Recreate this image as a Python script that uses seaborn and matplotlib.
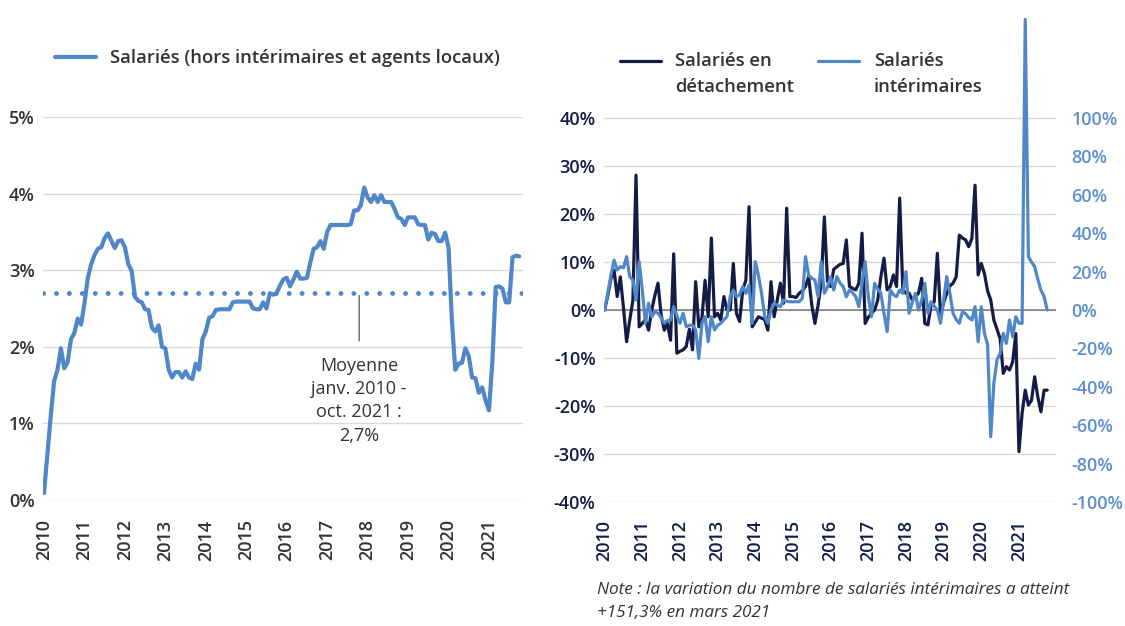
import numpy as np
import pandas as pd
import matplotlib
matplotlib.use("Agg")
import matplotlib.pyplot as plt
from matplotlib.legend_handler import HandlerLine2D
import seaborn as sns

# ---- data (monthly, Jan 2010 -> Oct 2021) ----
years = [str(y) for y in range(2010, 2022)]

# year-on-year growth, salaried staff excluding temp workers and local agents (%)
salaries_hors_interim = [
    0.09, 0.6, 1.1, 1.55, 1.7, 1.98, 1.72, 1.8, 2.1, 2.18,
    2.37, 2.29, 2.57, 2.9, 3.08, 3.2, 3.28, 3.3, 3.42, 3.48,
    3.38, 3.29, 3.38, 3.39, 3.3, 3.08, 2.99, 2.65, 2.6, 2.58,
    2.49, 2.48, 2.25, 2.2, 2.28, 2.0, 1.98, 1.7, 1.6, 1.67,
    1.67, 1.6, 1.68, 1.6, 1.58, 1.78, 1.7, 2.1, 2.2, 2.38,
    2.4, 2.48, 2.49, 2.49, 2.49, 2.49, 2.58, 2.59, 2.59, 2.59,
    2.59, 2.59, 2.5, 2.49, 2.49, 2.58, 2.5, 2.7, 2.68, 2.7,
    2.8, 2.88, 2.9, 2.79, 2.88, 2.98, 2.89, 2.89, 2.9, 3.1,
    3.28, 3.3, 3.38, 3.28, 3.5, 3.59, 3.59, 3.59, 3.59, 3.59,
    3.59, 3.6, 3.78, 3.78, 3.85, 4.08, 3.95, 3.89, 3.98, 3.89,
    3.98, 3.89, 3.89, 3.89, 3.8, 3.69, 3.67, 3.59, 3.69, 3.69,
    3.69, 3.6, 3.59, 3.59, 3.4, 3.49, 3.47, 3.38, 3.38, 3.49,
    3.3, 2.35, 1.7, 1.78, 1.79, 1.98, 1.88, 1.6, 1.59, 1.4,
    1.47, 1.3, 1.17, 1.8, 2.78, 2.79, 2.76, 2.58, 2.58, 3.17,
    3.19, 3.18,
]
moyenne = 2.7
moyenne_label = "Moyenne\njanv. 2010 -\noct. 2021 :\n2,7%"

# posted workers (left axis, %)
detachement = [
    0.0, 3.0, 6.5, 8.3, 2.8, 6.9, 0.5, -6.6, -2.1, 2.0,
    28.1, -3.5, -2.8, -2.0, -4.2, 0.0, 3.0, 5.6, -1.0, -4.2,
    -2.8, -6.3, 11.7, -9.0, -8.6, -8.3, -7.6, -4.0, -8.3, 5.9,
    -3.5, -1.7, 6.2, -1.4, 15.0, -1.4, -0.7, -2.1, 2.8, 0.0,
    0.0, 9.7, -0.7, -2.4, 4.2, 6.2, 21.5, -3.5, -2.5, -1.4,
    -1.7, -2.0, -4.2, 5.9, -1.4, 2.1, 5.6, 1.4, 21.2, 2.8,
    2.8, 2.6, 3.5, 4.0, 4.9, 6.9, 1.0, -2.8, 1.0, 5.6,
    19.4, 6.0, 4.9, 8.5, 9.0, 9.5, 9.7, 14.6, 4.9, 4.5,
    4.2, 5.6, 16.0, -2.8, -1.5, -0.7, 0.0, 2.0, 6.9, 10.8,
    4.2, 4.9, 7.3, 4.9, 23.3, 4.2, 3.5, 3.5, 2.1, 2.8,
    3.5, 6.6, -2.8, -3.1, 1.0, 1.7, 11.8, -1.0, 1.5, 3.5,
    5.0, 5.6, 6.9, 15.6, 15.0, 14.6, 13.2, 14.9, 26.0, 7.3,
    9.7, 7.6, 4.0, 2.1, -2.1, -4.0, -6.0, -13.2, -11.8, -12.5,
    -10.8, -4.9, -29.5, -21.5, -16.7, -19.8, -18.8, -13.9, -18.1, -21.2,
    -16.7, -16.7,
]

# temp workers (right axis, %)
interimaires = [
    0.0, 9.0, 18.0, 26.0, 20.8, 22.6, 22.0, 27.8, 17.4, 15.6,
    5.2, 25.2, 10.4, -6.9, 3.5, -3.5, -1.0, -1.7, -4.0, -6.9,
    -5.5, -5.2, 1.7, -3.0, -6.9, -1.7, -8.7, -8.0, -7.8, -10.4,
    -25.2, -6.9, -3.5, -16.5, -3.5, -10.4, -8.0, -6.9, -5.0, -3.5,
    6.9, 10.4, 6.9, 8.0, 12.2, 8.7, 13.0, -6.9, 25.2, 18.0,
    8.7, -3.5, -6.9, 0.0, 3.5, 2.5, 1.7, 5.2, 4.5, 4.3,
    4.3, 4.3, 4.3, 6.1, 27.8, 18.2, 16.5, 15.6, 6.9, 25.2,
    8.7, 12.0, 17.4, 10.4, 17.4, 14.0, 12.2, 6.9, 10.4, 9.0,
    6.9, 1.7, 14.0, 25.2, 6.9, -3.5, 13.9, 11.0, 8.7, -1.7,
    -11.3, 10.4, 8.0, 6.9, 10.4, 8.7, 20.0, -1.7, 4.0, 8.7,
    0.0, 5.0, 13.9, -1.7, 4.3, 2.0, 0.0, -6.9, 5.0, 17.4,
    8.7, -1.7, -5.0, -6.9, -0.9, -2.0, -4.0, -5.2, 1.7, -16.5,
    1.7, -12.1, -18.0, -66.0, -38.2, -26.0, -22.6, -12.1, -17.4, -5.2,
    -13.9, -3.5, -6.9, -6.9, 151.3, 27.8, 25.0, 22.6, 16.0, 10.4,
    7.0, 0.0,
]

label_left = "Salariés (hors intérimaires et agents locaux)"
label_det = "Salariés en\ndétachement"
label_int = "Salariés\nintérimaires"
note = "Note : la variation du nombre de salariés intérimaires a atteint\n+151,3% en mars 2021"

left_ticks = [0, 1, 2, 3, 4, 5]
det_ticks = [-40, -30, -20, -10, 0, 10, 20, 30, 40]
int_ticks = [-100, -80, -60, -40, -20, 0, 20, 40, 60, 80, 100]

# ---- style ----
BLUE = "#4f87c8"
NAVY = "#141b47"
GRID = "#d9d9d9"
TEXT = "#333333"

sns.set_theme(style="white")
plt.rcParams["font.family"] = ["Open Sans", "DejaVu Sans"]

W, H = 1125, 626
fig = plt.figure(figsize=(W / 100, H / 100), dpi=100)


def box(x0, y0, x1, y1):
    return [x0 / W, 1 - y1 / H, (x1 - x0) / W, (y1 - y0) / H]


def pct(v):
    return f"{v}%"


TICK_FS = 13
LEG_FS = 13.3

# ---- left panel ----
ax1 = fig.add_axes(box(43, 117, 523, 500))
df1 = pd.DataFrame({"mois": np.arange(len(salaries_hors_interim)),
                    "taux": salaries_hors_interim})
sns.lineplot(data=df1, x="mois", y="taux", ax=ax1, color=BLUE, lw=3.0,
             label=label_left, legend=False)
ax1.axhline(moyenne, color=BLUE, lw=3.5, linestyle=(0, (0.01, 2.65)),
            dash_capstyle="round", zorder=1)
ax1.set_xlim(-0.3, 142.1)
ax1.set_ylim(0, 5)
ax1.set_yticks(left_ticks)
ax1.set_yticklabels([pct(v) for v in left_ticks])
ax1.set_xticks(np.arange(len(years)) * 12)
ax1.set_xticklabels(years, rotation=90)
ax1.grid(axis="y", color=GRID, lw=1)
ax1.set_axisbelow(True)
for s in ax1.spines.values():
    s.set_visible(False)
ax1.tick_params(axis="y", length=0, pad=6, labelsize=TICK_FS, labelcolor=TEXT)
ax1.tick_params(axis="x", length=0, pad=14, labelsize=TICK_FS, labelcolor=TEXT)
for t in ax1.get_xticklabels() + ax1.get_yticklabels():
    t.set_fontweight("semibold")
ax1.set_xlabel("")
ax1.set_ylabel("")

# annotation for the average
x_ann = 93.5
ax1.annotate(moyenne_label, xy=(x_ann, moyenne - 0.03), xytext=(x_ann, 1.87),
             ha="center", va="top", fontsize=13, color=TEXT,
             linespacing=1.38,
             arrowprops=dict(arrowstyle="-", color="#555555", lw=0.9,
                             shrinkA=9, shrinkB=0))

leg1 = ax1.legend(loc="center left", bbox_to_anchor=(55 / W, 1 - 58 / H),
                  bbox_transform=fig.transFigure, frameon=False,
                  borderpad=0, borderaxespad=0, handlelength=2.2,
                  handletextpad=0.8, fontsize=LEG_FS)
for t in leg1.get_texts():
    t.set_fontweight("semibold")
    t.set_color(TEXT)

# ---- right panel ----
ax2 = fig.add_axes(box(604, 10, 1056, 502))
ax3 = ax2.twinx()
months = np.arange(len(detachement))
df2 = pd.DataFrame({"mois": months, "det": detachement, "int": interimaires})
sns.lineplot(data=df2, x="mois", y="det", ax=ax2, color=NAVY, lw=2.3,
             legend=False)
sns.lineplot(data=df2, x="mois", y="int", ax=ax3, color=BLUE, lw=2.3,
             legend=False)
ax2.axhline(0, color="#808080", lw=1.2, zorder=1.5)

ax2.set_xlim(-0.2, 143.8)
ax2.set_ylim(-40, 62.5)
ax3.set_ylim(-100, 156.25)
ax2.set_yticks(det_ticks)
ax2.set_yticklabels([pct(v) for v in det_ticks])
ax3.set_yticks(int_ticks)
ax3.set_yticklabels([pct(v) for v in int_ticks])
ax2.set_xticks(np.arange(len(years)) * 12)
ax2.set_xticklabels(years, rotation=90)
ax2.grid(axis="y", color=GRID, lw=1)
ax2.grid(axis="x", visible=False)
ax3.grid(False)
ax2.set_axisbelow(True)
for a in (ax2, ax3):
    for s in a.spines.values():
        s.set_visible(False)
    a.set_xlabel("")
    a.set_ylabel("")
ax2.tick_params(axis="y", length=0, pad=6, labelsize=TICK_FS, labelcolor=NAVY)
ax2.tick_params(axis="x", length=0, pad=13, labelsize=TICK_FS, labelcolor=NAVY)
ax3.tick_params(axis="y", length=0, pad=11, labelsize=TICK_FS, labelcolor="#5b8fd0")
for t in ax2.get_xticklabels() + ax2.get_yticklabels() + ax3.get_yticklabels():
    t.set_fontweight("semibold")


class HandlerFirstLine(HandlerLine2D):
    """Line handle aligned with the first line of a two-line label."""

    def __init__(self, shift, **kw):
        super().__init__(**kw)
        self.shift = shift

    def create_artists(self, legend, orig_handle, xdescent, ydescent,
                       width, height, fontsize, trans):
        arts = super().create_artists(legend, orig_handle, xdescent, ydescent,
                                      width, height, fontsize, trans)
        for a in arts:
            a.set_ydata(np.asarray(a.get_ydata(), dtype=float) + self.shift)
        return arts


h_det = ax2.get_lines()[0]
h_int = ax3.get_lines()[0]
leg2 = fig.legend([h_det, h_int], [label_det, label_int],
                  loc="center left", bbox_to_anchor=(620 / W, 1 - 74 / H),
                  ncol=2, frameon=False, borderpad=0, borderaxespad=0,
                  handlelength=2.2, handletextpad=0.8, columnspacing=1.3,
                  fontsize=LEG_FS, labelspacing=0.2,
                  handler_map={h_det: HandlerFirstLine(9.5),
                               h_int: HandlerFirstLine(9.5)})
for t in leg2.get_texts():
    t.set_fontweight("semibold")
    t.set_color(TEXT)
    t.set_linespacing(1.6)

fig.text(597 / W, 1 - 582 / H, note, ha="left", va="top", fontsize=12.3,
         style="italic", color=TEXT, linespacing=1.55)

fig.savefig("out.png", dpi=100)
